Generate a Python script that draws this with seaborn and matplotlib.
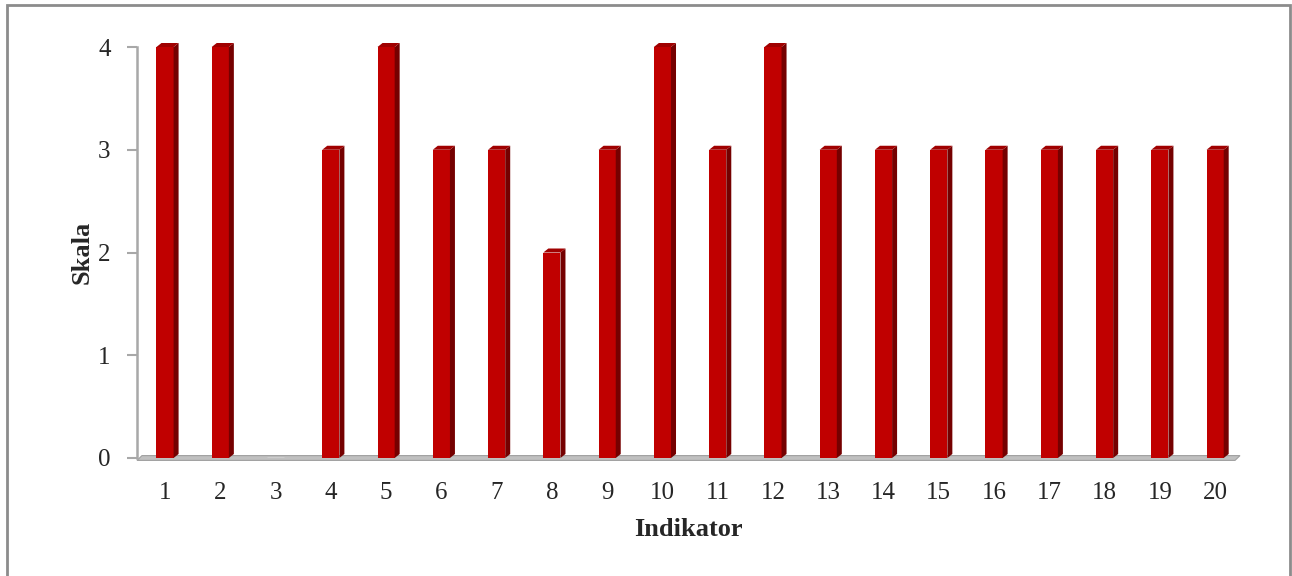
import numpy as np
import pandas as pd
import matplotlib.pyplot as plt
import seaborn as sns
from matplotlib.patches import Polygon, Rectangle

# data
indikator = [str(i) for i in range(1, 21)]
skala = [4, 4, 0, 3, 4, 3, 3, 2, 3, 4, 3, 4, 3, 3, 3, 3, 3, 3, 3, 3]

df = pd.DataFrame({'Indikator': indikator, 'Skala': skala})

sns.set_style('white')
plt.rcParams['font.family'] = ['Liberation Serif', 'DejaVu Serif']

fig = plt.figure(figsize=(12.92, 5.76), dpi=100)
W, H = 1292, 576
ax = fig.add_axes([137 / W, 1 - 458 / H, (1240 - 137) / W, (458 - 47) / H])

front = '#c00000'
side = '#750000'
sns.barplot(data=df, x='Indikator', y='Skala', color=front, width=0.31,
            saturation=1, ax=ax, zorder=3)

xl = (-0.507, 19.45)
ax.set_xlim(*xl)
ax.set_ylim(0, 4)

# pixel -> data conversions for 3D depth
dx = 5.0 / 55.26
dy = 4.0 / ((458 - 47) / 4)

for p in ax.patches:
    h = p.get_height()
    if h <= 0:
        continue
    x0 = p.get_x()
    x1 = x0 + p.get_width()
    p.set_edgecolor('none')
    p.set_clip_on(False)
    ax.add_patch(Polygon([(x1, 0), (x1 + dx, dy), (x1 + dx, h + dy), (x1, h)],
                         closed=True, facecolor=side, edgecolor='none', zorder=3,
                         clip_on=False))
    ax.add_patch(Polygon([(x0, h), (x0 + dx, h + dy), (x1 + dx, h + dy), (x1, h)],
                         closed=True, facecolor='#a00000', edgecolor='none', zorder=3,
                         clip_on=False))

# floor
ax.add_patch(Polygon([(xl[0], -dy * 0.6), (xl[0] + dx, dy * 0.6), (xl[1], dy * 0.6),
                      (xl[1] - dx, -dy * 0.6)],
                     closed=True, facecolor='#c0c0c0', edgecolor='#a0a0a0', lw=0.8,
                     zorder=2, clip_on=False))

for s in ['top', 'right', 'bottom']:
    ax.spines[s].set_visible(False)
ax.spines['left'].set_color('#a8a8a8')
ax.spines['left'].set_linewidth(1.8)

ax.set_yticks([0, 1, 2, 3, 4])
ax.tick_params(axis='y', which='both', left=True, length=7, color='#a8a8a8',
               width=1.5, labelsize=18, pad=12)
ax.tick_params(axis='x', bottom=False, labelsize=18, pad=14)

ax.set_xlabel('Indikator', fontsize=19, fontweight='bold', labelpad=10)
ax.set_ylabel('Skala', fontsize=19, fontweight='bold', labelpad=3)

# outer frame
fig.patches.append(Rectangle((7 / W, -0.01), (1290 - 7) / W, 1 - 5 / H + 0.01,
                             transform=fig.transFigure, fill=False,
                             edgecolor='#8c8c8c', lw=2))

fig.savefig('out.png', dpi=100)
